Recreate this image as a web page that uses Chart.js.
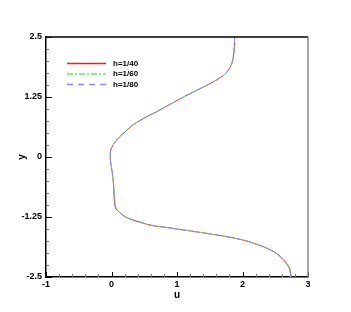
<!DOCTYPE html>
<html>
<head>
<meta charset="utf-8">
<script src="https://cdn.jsdelivr.net/npm/chart.js@4/dist/chart.umd.min.js"></script>
<style>
  html, body { margin: 0; padding: 0; background: #fff; }
  #wrap { width: 351px; height: 312px; }
</style>
</head>
<body>
<div id="wrap"><canvas id="c" width="351" height="312"></canvas></div>
<script>
// profile y positions (top to bottom) and u for each grid size
const yVals = [2.5, 2.29, 2.08, 1.94, 1.8, 1.7, 1.61, 1.49, 1.39, 1.25, 1.125, 0.98, 0.84, 0.67, 0.49, 0.4, 0.32, 0.24, 0.15, 0.05,
  -0.15, -0.3, -0.55, -0.83, -1.0, -1.08, -1.15, -1.22, -1.29, -1.36, -1.42, -1.47, -1.52, -1.57, -1.625,
  -1.73, -1.87, -2.01, -2.18, -2.32, -2.5];
const uH40 = [1.88, 1.875, 1.86, 1.835, 1.78, 1.71, 1.61, 1.45, 1.30, 1.10, 0.93, 0.74, 0.54, 0.33, 0.18, 0.11, 0.06, 0.02, -0.01, -0.02,
  -0.01, 0.01, 0.03, 0.04, 0.05, 0.07, 0.12, 0.18, 0.28, 0.44, 0.59, 0.85, 1.10, 1.35, 1.61,
  2.01, 2.32, 2.52, 2.65, 2.72, 2.74];
const uH60 = [1.88, 1.875, 1.86, 1.835, 1.78, 1.71, 1.61, 1.45, 1.30, 1.10, 0.93, 0.74, 0.54, 0.33, 0.18, 0.11, 0.06, 0.02, -0.01, -0.02,
  -0.01, 0.01, 0.03, 0.05, 0.06, 0.08, 0.12, 0.18, 0.28, 0.44, 0.59, 0.85, 1.10, 1.35, 1.61,
  2.01, 2.32, 2.51, 2.64, 2.71, 2.73];
const uH80 = [1.88, 1.875, 1.86, 1.835, 1.78, 1.71, 1.61, 1.45, 1.30, 1.10, 0.93, 0.74, 0.54, 0.33, 0.18, 0.11, 0.06, 0.02, -0.01, -0.02,
  -0.01, 0.01, 0.03, 0.04, 0.05, 0.07, 0.12, 0.18, 0.28, 0.44, 0.59, 0.85, 1.10, 1.35, 1.61,
  2.01, 2.32, 2.52, 2.65, 2.72, 2.74];
const seriesLabels = ['h=1/40', 'h=1/60', 'h=1/80'];
const xTickLabels = [-1, 0, 1, 2, 3];
const yTickLabels = [-2.5, -1.25, 0, 1.25, 2.5];

const pts = (us) => us.map((u, i) => ({ x: u, y: yVals[i] }));
const isLabel = (v, list) => list.some((t) => Math.abs(t - v) < 1e-6);
const tickFont = { family: 'Liberation Sans, Arial, sans-serif', size: 9, weight: 'bold' };
const titleFont = { family: 'Liberation Sans, Arial, sans-serif', size: 10, weight: 'bold' };

// ticks pointing into the plot, plus top/right frame
const frame = {
  id: 'frame',
  afterDatasetsDraw(chart) {
    const { ctx, chartArea: a, scales: { x, y } } = chart;
    ctx.save();
    ctx.lineWidth = 1;
    x.ticks.forEach((t) => {
      const px = Math.round(x.getPixelForValue(t.value)) + 0.5;
      const major = isLabel(t.value, xTickLabels);
      ctx.strokeStyle = major ? '#000' : '#777';
      ctx.beginPath();
      ctx.moveTo(px, a.bottom);
      ctx.lineTo(px, a.bottom - (major ? 5 : 3));
      ctx.stroke();
    });
    y.ticks.forEach((t) => {
      const py = Math.round(y.getPixelForValue(t.value)) + 0.5;
      const major = isLabel(t.value, yTickLabels);
      ctx.strokeStyle = major ? '#000' : '#777';
      ctx.beginPath();
      ctx.moveTo(a.left, py);
      ctx.lineTo(a.left + (major ? 6 : 3), py);
      ctx.stroke();
    });
    ctx.lineWidth = 1.5;
    ctx.strokeStyle = '#000';
    ctx.beginPath();
    ctx.moveTo(a.left, a.top);
    ctx.lineTo(a.right, a.top);
    ctx.stroke();
    ctx.strokeStyle = '#888';
    ctx.beginPath();
    ctx.moveTo(a.right, a.top);
    ctx.lineTo(a.right, a.bottom);
    ctx.stroke();
    ctx.restore();
  },
};

// legend inside the plot, top left
const legendRows = [63.5, 74, 84.5];
const innerLegend = {
  id: 'innerLegend',
  afterDraw(chart) {
    const { ctx } = chart;
    ctx.save();
    chart.data.datasets.forEach((ds, i) => {
      const yy = legendRows[i];
      ctx.strokeStyle = ds.borderColor;
      ctx.lineWidth = 1.5;
      ctx.setLineDash(ds.borderDash || []);
      ctx.beginPath();
      ctx.moveTo(67, yy);
      ctx.lineTo(106, yy);
      ctx.stroke();
      ctx.setLineDash([]);
      ctx.fillStyle = '#000';
      ctx.font = 'bold 8px Liberation Sans, Arial, sans-serif';
      ctx.textBaseline = 'middle';
      ctx.fillText(ds.label, 113, yy);
    });
    ctx.restore();
  },
};

new Chart(document.getElementById('c'), {
  type: 'scatter',
  data: {
    datasets: [
      // lower order is drawn on top: blue dashes over green over red
      { label: seriesLabels[0], data: pts(uH40), borderColor: 'rgb(235,30,30)', borderDash: [], order: 2 },
      { label: seriesLabels[1], data: pts(uH60), borderColor: 'rgb(100,230,100)', borderDash: [6, 2, 2, 2], order: 1 },
      { label: seriesLabels[2], data: pts(uH80), borderColor: 'rgb(140,140,255)', borderDash: [6, 5], order: 0 },
    ].map((d) => ({ ...d, showLine: true, borderWidth: 1, pointRadius: 0, pointHoverRadius: 0, tension: 0.3, fill: false })),
  },
  options: {
    responsive: false,
    animation: false,
    layout: { padding: { left: 0, right: 43, top: 37, bottom: 0 } },
    plugins: { legend: { display: false }, tooltip: { enabled: false } },
    scales: {
      x: {
        type: 'linear',
        min: -1,
        max: 3,
        afterFit: (s) => { s.height = 35; },
        grid: { display: false, drawTicks: false },
        border: { display: true, color: '#000', width: 1.5 },
        ticks: {
          stepSize: 0.2,
          autoSkip: false,
          maxRotation: 0,
          padding: 2,
          color: '#000',
          font: tickFont,
          callback: (v) => (isLabel(v, xTickLabels) ? String(Math.round(v)) : ''),
        },
        title: { display: true, text: 'u', color: '#000', font: titleFont, padding: { top: 0, bottom: 11 } },
      },
      y: {
        type: 'linear',
        min: -2.5,
        max: 2.5,
        afterFit: (s) => { s.width = 46; },
        grid: { display: false, drawTicks: false },
        border: { display: true, color: '#000', width: 1.5 },
        ticks: {
          stepSize: 0.25,
          autoSkip: false,
          padding: 4,
          color: '#000',
          font: tickFont,
          callback: (v) => {
            if (!isLabel(v, yTickLabels)) return '';
            return String(Math.round(v * 100) / 100);
          },
        },
        title: { display: true, text: 'y', color: '#000', font: titleFont, padding: { top: 16, bottom: 0 } },
      },
    },
  },
  plugins: [frame, innerLegend],
});
</script>
</body>
</html>
